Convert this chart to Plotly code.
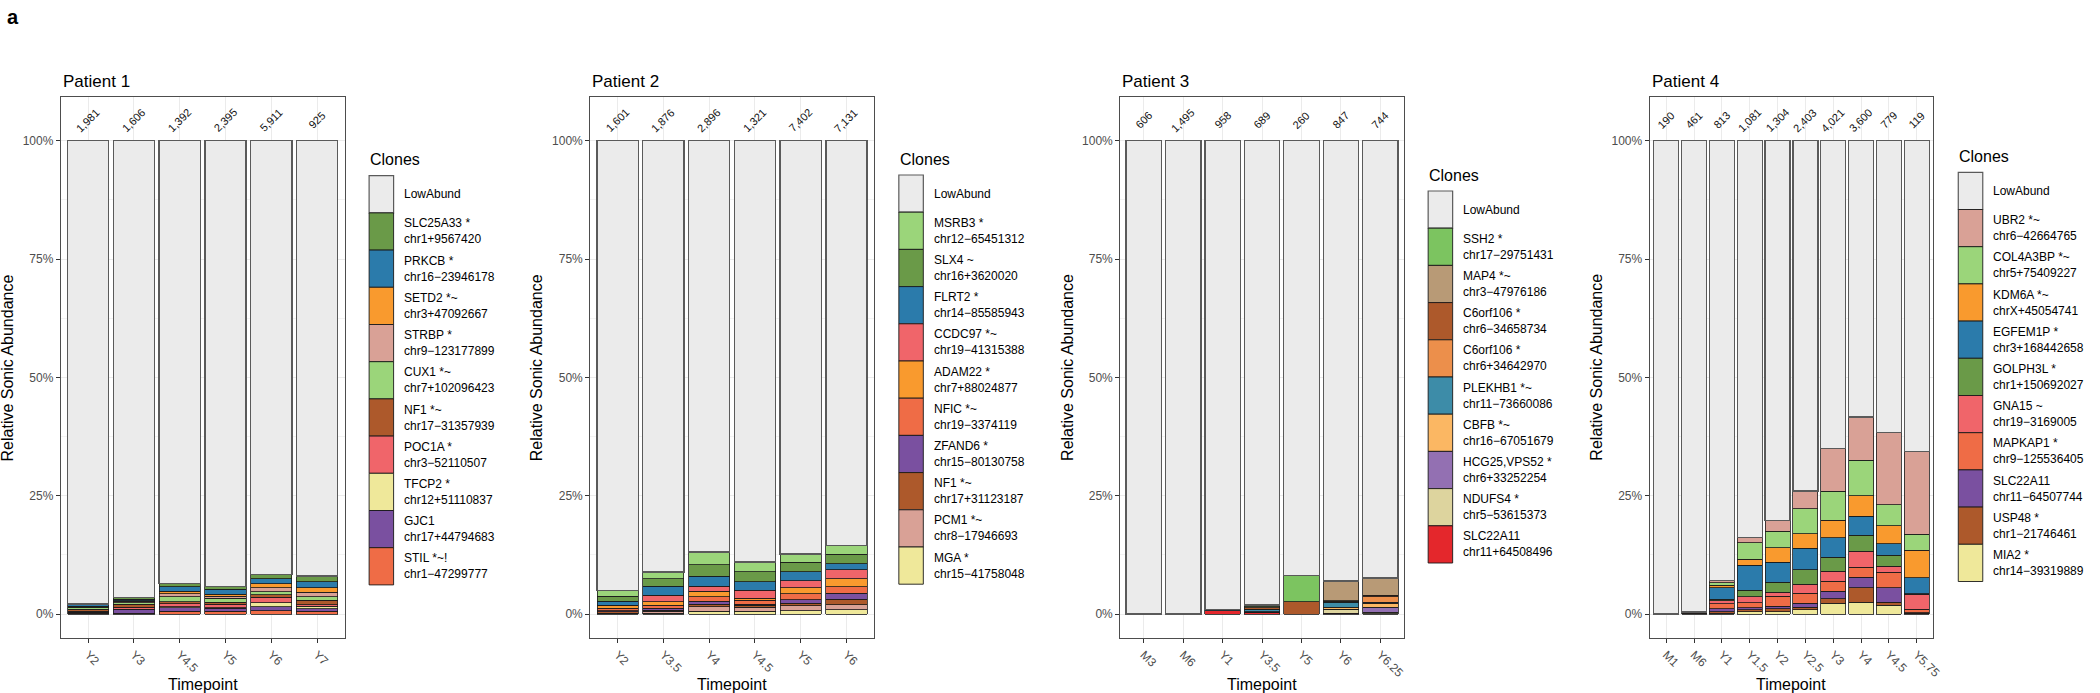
import plotly.graph_objects as go

FONT = "Arial, 'Liberation Sans', Helvetica, sans-serif"
W, H = 2100, 693

LOW = "#ebebeb"
DKGREEN = "#6a9a48"; BLUE = "#2b7bab"; ORANGE = "#f99a2e"; PINK = "#d9a196"
LTGREEN = "#9bd57a"; BROWN = "#ad592b"; RED = "#f0656a"; YELLOW = "#efe89a"
PURPLE = "#7a50a0"; ORED = "#ef6c46"

# ---------------- Patient 1 ----------------
p1_timepoints = ["Y2", "Y3", "Y4.5", "Y5", "Y6", "Y7"]
p1_counts = ["1,981", "1,606", "1,392", "2,395", "5,911", "925"]
p1_clones = ["LowAbund", "SLC25A33 *", "PRKCB *", "SETD2 *~", "STRBP *", "CUX1 *~",
             "NF1 *~", "POC1A *", "TFCP2 *", "GJC1", "STIL *~!"]
p1_loci = ["", "chr1+9567420", "chr16−23946178", "chr3+47092667", "chr9−123177899",
           "chr7+102096423", "chr17−31357939", "chr3−52110507", "chr12+51110837",
           "chr17+44794683", "chr1−47299777"]
p1_colors = [LOW, DKGREEN, BLUE, ORANGE, PINK, LTGREEN, BROWN, RED, YELLOW, PURPLE, ORED]
p1_values = [
    [97.9, 96.5, 93.5, 94.2, 91.7, 92.0],   # LowAbund
    [0.1, 0.4, 0.7, 0.6, 0.8, 1.2],         # SLC25A33
    [0.4, 0.3, 1.0, 1.0, 1.1, 1.2],         # PRKCB
    [0.1, 0.1, 0.5, 0.4, 0.9, 1.0],         # SETD2
    [0.1, 0.3, 0.7, 0.5, 0.8, 1.0],         # STRBP
    [0.4, 0.3, 1.0, 0.8, 0.6, 0.7],         # CUX1
    [0.4, 0.7, 0.4, 0.4, 0.6, 0.9],         # NF1
    [0.2, 0.4, 0.7, 0.8, 1.1, 0.4],         # POC1A
    [0.1, 0.1, 0.2, 0.1, 0.9, 0.5],         # TFCP2
    [0.1, 0.7, 0.7, 0.6, 0.8, 0.5],         # GJC1
    [0.2, 0.2, 0.6, 0.6, 0.7, 0.6],         # STIL
]

# ---------------- Patient 2 ----------------
p2_timepoints = ["Y2", "Y3.5", "Y4", "Y4.5", "Y5", "Y6"]
p2_counts = ["1,601", "1,876", "2,896", "1,321", "7,402", "7,131"]
p2_clones = ["LowAbund", "MSRB3 *", "SLX4 ~", "FLRT2 *", "CCDC97 *~", "ADAM22 *",
             "NFIC *~", "ZFAND6 *", "NF1 *~", "PCM1 *~", "MGA *"]
p2_loci = ["", "chr12−65451312", "chr16+3620020", "chr14−85585943", "chr19−41315388",
           "chr7+88024877", "chr19−3374119", "chr15−80130758", "chr17+31123187",
           "chr8−17946693", "chr15−41758048"]
p2_colors = [LOW, LTGREEN, DKGREEN, BLUE, RED, ORANGE, ORED, PURPLE, BROWN, PINK, YELLOW]
p2_values = [
    [95.1, 91.1, 86.9, 89.0, 87.3, 85.5],   # LowAbund
    [1.1, 1.5, 2.7, 2.1, 1.8, 1.9],         # MSRB3
    [1.1, 1.5, 2.4, 2.1, 2.0, 2.0],         # SLX4
    [0.8, 1.9, 2.1, 1.8, 1.9, 1.3],         # FLRT2
    [0.2, 1.4, 1.1, 1.7, 1.5, 1.8],         # CCDC97
    [0.5, 0.7, 1.2, 0.4, 1.2, 1.7],         # ADAM22
    [0.5, 0.7, 0.9, 0.8, 1.3, 1.4],         # NFIC
    [0.2, 0.4, 0.6, 0.3, 0.7, 1.3],         # ZFAND6
    [0.3, 0.2, 0.6, 0.4, 0.6, 1.1],         # NF1
    [0.1, 0.4, 0.9, 0.8, 1.0, 1.1],         # PCM1
    [0.1, 0.2, 0.6, 0.6, 0.7, 0.9],         # MGA
]

# ---------------- Patient 3 ----------------
p3_timepoints = ["M3", "M6", "Y1", "Y3.5", "Y5", "Y6", "Y6.25"]
p3_counts = ["606", "1,495", "958", "689", "260", "847", "744"]
p3_clones = ["LowAbund", "SSH2 *", "MAP4 *~", "C6orf106 *", "C6orf106 *", "PLEKHB1 *~",
             "CBFB *~", "HCG25,VPS52 *", "NDUFS4 *", "SLC22A11"]
p3_loci = ["", "chr17−29751431", "chr3−47976186", "chr6−34658734", "chr6+34642970",
           "chr11−73660086", "chr16−67051679", "chr6+33252254", "chr5−53615373",
           "chr11+64508496"]
p3_colors = [LOW, "#7cc460", "#b89a76", "#ad592b", "#ec8f4b", "#3d8ca8", "#fbb763",
             "#9370b2", "#ddd49e", "#e4272c"]
p3_values = [
    [100.0, 100.0, 99.0, 98.1, 91.9, 93.0, 92.4],  # LowAbund
    [0, 0, 0.1, 0.4, 5.5, 0.2, 0.05],              # SSH2
    [0, 0, 0, 0.2, 0, 4.0, 3.6],                   # MAP4
    [0, 0, 0, 0.3, 2.6, 0.1, 0.3],                 # C6orf106 (-)
    [0, 0, 0, 0.1, 0, 0.2, 1.2],                   # C6orf106 (+)
    [0, 0, 0.2, 0.4, 0, 1.1, 0.15],                # PLEKHB1
    [0, 0, 0, 0.1, 0, 0.4, 0.9],                   # CBFB
    [0, 0, 0, 0.1, 0, 0.1, 1.0],                   # HCG25,VPS52
    [0, 0, 0, 0, 0, 0.7, 0.3],                     # NDUFS4
    [0, 0, 0.7, 0.3, 0, 0.2, 0.1],                 # SLC22A11
]

# ---------------- Patient 4 ----------------
p4_timepoints = ["M1", "M6", "Y1", "Y1.5", "Y2", "Y2.5", "Y3", "Y4", "Y4.5", "Y5.75"]
p4_counts = ["190", "461", "813", "1,081", "1,304", "2,403", "4,021", "3,600", "779", "119"]
p4_clones = ["LowAbund", "UBR2 *~", "COL4A3BP *~", "KDM6A *~", "EGFEM1P *", "GOLPH3L *",
             "GNA15 ~", "MAPKAP1 *", "SLC22A11", "USP48 *", "MIA2 *"]
p4_loci = ["", "chr6−42664765", "chr5+75409227", "chrX+45054741", "chr3+168442658",
           "chr1+150692027", "chr19−3169005", "chr9−125536405", "chr11−64507744",
           "chr1−21746461", "chr14−39319889"]
p4_colors = [LOW, PINK, LTGREEN, ORANGE, BLUE, DKGREEN, RED, ORED, PURPLE, BROWN, YELLOW]
p4_values = [
    [100.0, 99.6, 92.9, 83.9, 80.3, 74.0, 65.1, 58.4, 61.7, 65.6],  # LowAbund
    [0, 0, 0.5, 1.0, 2.2, 3.8, 9.0, 9.1, 15.2, 17.5],               # UBR2
    [0, 0, 0.5, 3.5, 3.5, 5.2, 6.1, 7.5, 4.5, 3.4],                 # COL4A3BP
    [0, 0, 0.6, 1.3, 3.1, 3.1, 3.7, 4.3, 3.8, 5.8],                 # KDM6A
    [0, 0, 2.4, 5.3, 4.2, 4.5, 4.1, 4.1, 2.4, 3.4],                 # EGFEM1P
    [0, 0, 0.3, 1.4, 2.1, 3.1, 3.0, 3.3, 2.3, 0.1],                 # GOLPH3L
    [0, 0, 0.6, 1.2, 0.9, 1.9, 2.1, 3.4, 1.3, 3.2],                 # GNA15
    [0, 0, 1.1, 1.1, 2.1, 2.1, 2.1, 2.1, 3.2, 0.7],                 # MAPKAP1
    [0, 0.2, 0.6, 0.4, 0.5, 0.9, 1.6, 2.3, 3.1, 0.1],               # SLC22A11
    [0, 0.2, 0.3, 0.4, 0.6, 0.5, 0.9, 3.0, 0.7, 0.2],               # USP48
    [0, 0, 0.2, 0.5, 0.5, 0.9, 2.3, 2.5, 1.8, 0],                   # MIA2
]

patients = [
    ("Patient 1", p1_timepoints, p1_counts, p1_clones, p1_loci, p1_colors, p1_values),
    ("Patient 2", p2_timepoints, p2_counts, p2_clones, p2_loci, p2_colors, p2_values),
    ("Patient 3", p3_timepoints, p3_counts, p3_clones, p3_loci, p3_colors, p3_values),
    ("Patient 4", p4_timepoints, p4_counts, p4_clones, p4_loci, p4_colors, p4_values),
]

# layout geometry (pixels)
panel_x = [(61, 346), (592.7, 877.7), (1125, 1410), (1656.7, 1941.7)]
panel_top, panel_bot = 97, 638
ytitle_x = [8, 539, 1072, 1603]
key_left = [370.7, 902.7, 1434.3, 1966.7]
key_top = [175.7, 175.0, 191.0, 172.3]
key_w, key_h = 24.6, 37.2


def px(x):
    return x / W


def py(y):
    return 1 - y / H


fig = go.Figure()
annotations = []
shapes = []

for i, (title, tps, counts, clones, loci, colors, values) in enumerate(patients):
    sfx = "" if i == 0 else str(i + 1)
    xa, ya = "x" + sfx, "y" + sfx
    # stack: bottom-most legend item first
    for k in range(len(clones) - 1, -1, -1):
        vals = [v if v > 0 else None for v in values[k]]
        low = (k == 0)
        fig.add_trace(go.Bar(
            x=tps, y=vals, xaxis=xa, yaxis=ya, name=clones[k],
            marker=dict(color=colors[k],
                        line=dict(color="#5a5a5a" if low else "#1a1a1a",
                                  width=1.3 if low else 0.8)),
            showlegend=False, hoverinfo="skip"))
    # counts above bars
    for t, c in zip(tps, counts):
        annotations.append(dict(x=t, y=104.3, xref=xa, yref=ya, text=c, showarrow=False,
                                textangle=-45, font=dict(size=11, color="#111", family=FONT),
                                xanchor="center", yanchor="middle"))
    x0, x1 = panel_x[i]
    n = len(tps)
    fig.layout["xaxis" + sfx] = dict(
        domain=[px(x0), px(x1)], anchor=ya, type="category", range=[-0.6, n - 0.4],
        showline=True, mirror=True, linecolor="#4d4d4d", linewidth=1,
        ticks="outside", ticklen=4, tickcolor="#333", tickwidth=1,
        tickangle=45, tickfont=dict(size=12, color="#4d4d4d", family=FONT),
        showgrid=True, gridcolor="#ebebeb", gridwidth=1, zeroline=False, fixedrange=True)
    fig.layout["yaxis" + sfx] = dict(
        domain=[py(panel_bot), py(panel_top)], anchor=xa, range=[-5.07, 109.23],
        tickmode="array", tickvals=[0, 25, 50, 75, 100],
        ticktext=["0%", "25%", "50%", "75%", "100%"],
        showline=True, mirror=True, linecolor="#4d4d4d", linewidth=1,
        ticks="outside", ticklen=4, tickcolor="#333", tickwidth=1,
        tickfont=dict(size=12, color="#4d4d4d", family=FONT),
        showgrid=True, gridcolor="#ebebeb", gridwidth=1, zeroline=False,
        minor=dict(tickmode="array", tickvals=[12.5, 37.5, 62.5, 87.5], showgrid=True,
                   gridcolor="#f3f3f3", gridwidth=0.6, ticklen=0),
        fixedrange=True)
    # panel title
    annotations.append(dict(x=px(x0), y=py(panel_top - 4), xref="paper", yref="paper",
                            text=title, showarrow=False, xanchor="left", yanchor="bottom",
                            font=dict(size=17, color="black", family=FONT)))
    # axis titles
    annotations.append(dict(x=px((x0 + x1) / 2), y=py(684), xref="paper", yref="paper",
                            text="Timepoint", showarrow=False, xanchor="center", yanchor="middle",
                            font=dict(size=16, color="black", family=FONT)))
    annotations.append(dict(x=px(ytitle_x[i]), y=py((panel_top + panel_bot) / 2), xref="paper",
                            yref="paper", text="Relative Sonic Abundance", showarrow=False,
                            textangle=-90, xanchor="center", yanchor="middle",
                            font=dict(size=16, color="black", family=FONT)))
    # legend (drawn)
    kl, kt = key_left[i], key_top[i]
    annotations.append(dict(x=px(kl - 1), y=py(kt - 16), xref="paper", yref="paper",
                            text="Clones", showarrow=False, xanchor="left", yanchor="middle",
                            font=dict(size=16, color="black", family=FONT)))
    for k, (cl, lc, col) in enumerate(zip(clones, loci, colors)):
        top = kt + k * key_h
        shapes.append(dict(type="rect", xref="paper", yref="paper",
                           x0=px(kl), x1=px(kl + key_w), y0=py(top + key_h), y1=py(top),
                           fillcolor=col,
                           line=dict(color="#5a5a5a" if k == 0 else "#1a1a1a",
                                     width=1.2 if k == 0 else 0.9)))
        label = cl if not lc else cl + "<br>" + lc
        annotations.append(dict(x=px(kl + key_w + 8.5), y=py(top + key_h / 2), xref="paper",
                                yref="paper", text=label, showarrow=False, align="left",
                                xanchor="left", yanchor="middle",
                                font=dict(size=12, color="black", family=FONT)))

annotations.append(dict(x=px(5), y=py(4), xref="paper", yref="paper", text="<b>a</b>",
                        showarrow=False, xanchor="left", yanchor="top",
                        font=dict(size=20, color="black", family=FONT)))

fig.update_layout(
    width=W, height=H, autosize=False,
    margin=dict(l=0, r=0, t=0, b=0),
    paper_bgcolor="white", plot_bgcolor="white",
    barmode="stack", bargap=0.1,
    showlegend=False,
    font=dict(family=FONT, color="black"),
    annotations=annotations, shapes=shapes,
)

fig.write_html("out.html", config={"displayModeBar": False},
               post_script="document.body.style.margin='0';document.body.style.padding='0';"
                           "document.documentElement.style.overflow='hidden';")
